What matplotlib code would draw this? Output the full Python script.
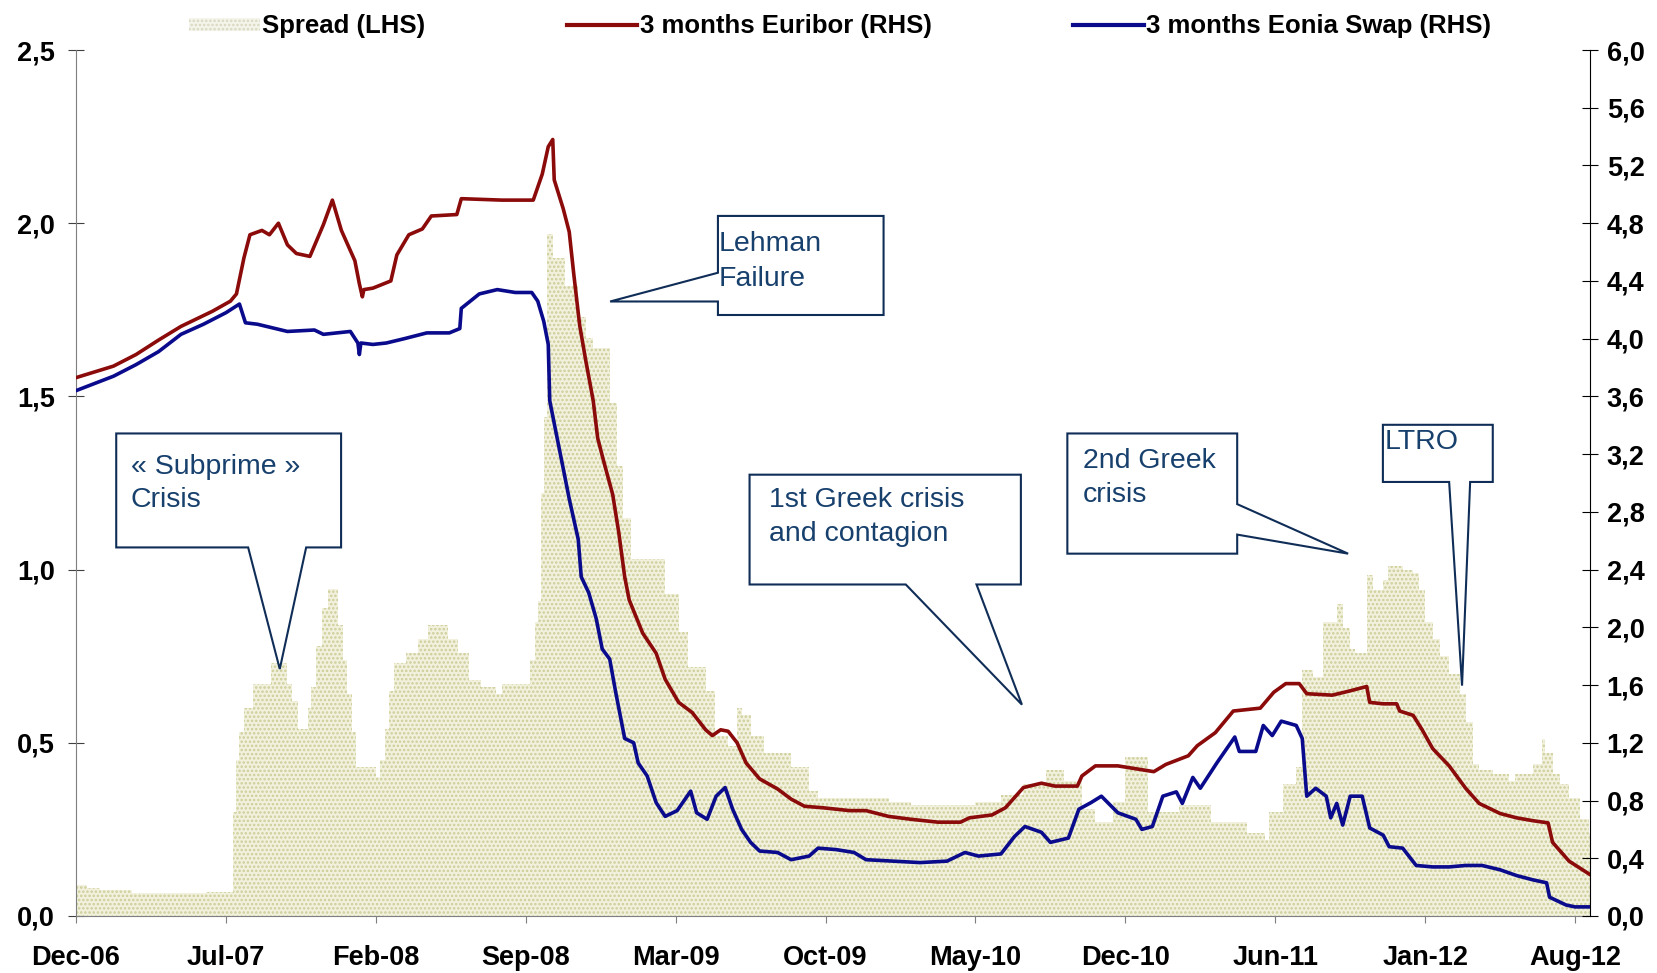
import matplotlib
matplotlib.use("Agg")
import matplotlib.pyplot as plt
from matplotlib.patches import Polygon, Patch
from matplotlib.lines import Line2D

plt.rcParams['font.family'] = ['Liberation Sans', 'DejaVu Sans']
plt.rcParams['hatch.linewidth'] = 1.2

# x positions are in "tick periods" (one label every ~146 business days)
tick_labels = ["Dec-06", "Jul-07", "Feb-08", "Sep-08", "Mar-09", "Oct-09",
               "May-10", "Dec-10", "Jun-11", "Jan-12", "Aug-12"]

# spread (LHS), step values starting at each position
spread_pos = [0.00, 0.07, 0.16, 0.37, 0.87, 1.05, 1.07, 1.09, 1.12, 1.18, 1.30, 1.41, 1.44, 1.48,
              1.55, 1.57, 1.60, 1.64, 1.68, 1.75, 1.78, 1.81, 1.84, 1.87, 2.00, 2.03, 2.06, 2.09,
              2.12, 2.20, 2.28, 2.35, 2.48, 2.55, 2.62, 2.70, 2.80, 2.84, 3.03, 3.06, 3.08, 3.10,
              3.12, 3.14, 3.18, 3.26, 3.35, 3.40, 3.45, 3.56, 3.61, 3.65, 3.70, 3.93, 4.02, 4.08,
              4.20, 4.26, 4.35, 4.41, 4.44, 4.50, 4.59, 4.77, 4.89, 4.95, 5.42, 5.57, 6.00, 6.17,
              6.32, 6.47, 6.59, 6.71, 6.80, 6.92, 7.00, 7.15, 7.36, 7.57, 7.81, 7.93, 7.96, 8.05,
              8.14, 8.18, 8.25, 8.32, 8.41, 8.45, 8.50, 8.53, 8.61, 8.65, 8.72, 8.75, 8.85, 8.92,
              8.96, 9.00, 9.05, 9.10, 9.16, 9.23, 9.27, 9.32, 9.36, 9.45, 9.56, 9.60, 9.72, 9.78,
              9.80, 9.85, 9.90, 9.96, 10.03, 10.09, 10.11]
spread_val = [0.09, 0.08, 0.075, 0.065, 0.07, 0.30, 0.45, 0.53, 0.60, 0.67, 0.73, 0.67, 0.62, 0.54,
              0.60, 0.66, 0.78, 0.89, 0.945, 0.84, 0.74, 0.64, 0.53, 0.43, 0.40, 0.45, 0.54, 0.65,
              0.73, 0.76, 0.80, 0.84, 0.80, 0.76, 0.68, 0.66, 0.64, 0.67, 0.74, 0.85, 0.91, 1.22,
              1.44, 1.97, 1.90, 1.82, 1.73, 1.67, 1.64, 1.48, 1.30, 1.15, 1.03, 0.93, 0.82, 0.72,
              0.65, 0.52, 0.49, 0.60, 0.58, 0.52, 0.47, 0.43, 0.36, 0.34, 0.33, 0.32, 0.33, 0.35,
              0.38, 0.42, 0.39, 0.31, 0.27, 0.33, 0.46, 0.30, 0.32, 0.27, 0.24, 0.22, 0.30, 0.38,
              0.43, 0.71, 0.69, 0.85, 0.90, 0.83, 0.77, 0.76, 0.985, 0.94, 0.97, 1.01, 1.00, 0.99,
              0.94, 0.85, 0.80, 0.75, 0.70, 0.64, 0.56, 0.44, 0.42, 0.41, 0.39, 0.41, 0.44, 0.51,
              0.47, 0.41, 0.38, 0.34, 0.28, 0.24, 0.24]

# 3 months Euribor (RHS)
euribor_pos = [0.00, 0.25, 0.40, 0.55, 0.70, 0.79, 0.91, 1.03, 1.07, 1.12, 1.16, 1.24, 1.29, 1.35,
               1.41, 1.47, 1.56, 1.65, 1.71, 1.77, 1.86, 1.89, 1.91, 1.92, 1.98, 2.10, 2.14, 2.22,
               2.31, 2.37, 2.54, 2.57, 2.84, 3.05, 3.11, 3.15, 3.18, 3.19, 3.25, 3.29, 3.32, 3.36,
               3.40, 3.45, 3.48, 3.52, 3.58, 3.62, 3.66, 3.69, 3.78, 3.87, 3.93, 4.02, 4.11, 4.20,
               4.245, 4.30, 4.35, 4.41, 4.47, 4.56, 4.68, 4.77, 4.86, 4.98, 5.16, 5.27, 5.42, 5.57,
               5.75, 5.90, 5.96, 6.11, 6.20, 6.32, 6.44, 6.53, 6.68, 6.71, 6.80, 6.95, 7.07, 7.19,
               7.27, 7.42, 7.48, 7.60, 7.72, 7.90, 7.99, 8.07, 8.16, 8.21, 8.38, 8.50, 8.61, 8.63,
               8.72, 8.81, 8.83, 8.92, 8.98, 9.05, 9.16, 9.27, 9.36, 9.50, 9.61, 9.72, 9.82, 9.85,
               9.96, 10.05, 10.11]
euribor_val = [3.73, 3.81, 3.89, 3.99, 4.085, 4.13, 4.19, 4.26, 4.31, 4.56, 4.72, 4.75, 4.72, 4.80,
               4.65, 4.59, 4.57, 4.79, 4.96, 4.75, 4.54, 4.38, 4.29, 4.34, 4.35, 4.40, 4.58, 4.72,
               4.76, 4.85, 4.86, 4.97, 4.96, 4.96, 5.14, 5.33, 5.38, 5.10, 4.90, 4.74, 4.45, 4.09,
               3.85, 3.57, 3.31, 3.15, 2.92, 2.66, 2.35, 2.19, 1.96, 1.82, 1.64, 1.48, 1.41, 1.29,
               1.25, 1.29, 1.28, 1.20, 1.06, 0.95, 0.88, 0.81, 0.76, 0.75, 0.73, 0.73, 0.69, 0.67,
               0.65, 0.65, 0.68, 0.70, 0.75, 0.89, 0.92, 0.90, 0.90, 0.97, 1.04, 1.04, 1.02, 1.00,
               1.05, 1.11, 1.18, 1.27, 1.42, 1.44, 1.55, 1.61, 1.61, 1.54, 1.53, 1.56, 1.59, 1.48,
               1.47, 1.47, 1.42, 1.39, 1.29, 1.16, 1.04, 0.885, 0.78, 0.71, 0.68, 0.66, 0.645, 0.51,
               0.38, 0.32, 0.28]

# 3 months Eonia swap (RHS)
eonia_pos = [0.00, 0.25, 0.40, 0.55, 0.70, 0.85, 1.00, 1.09, 1.13, 1.21, 1.29, 1.41, 1.59, 1.65,
             1.83, 1.88, 1.89, 1.90, 1.98, 2.07, 2.19, 2.34, 2.49, 2.56, 2.57, 2.63, 2.69, 2.81,
             2.93, 3.04, 3.08, 3.12, 3.15, 3.16, 3.20, 3.25, 3.29, 3.35, 3.37, 3.42, 3.47, 3.51,
             3.56, 3.60, 3.66, 3.72, 3.75, 3.81, 3.87, 3.93, 4.01, 4.10, 4.14, 4.21, 4.27, 4.33,
             4.38, 4.44, 4.50, 4.56, 4.68, 4.77, 4.89, 4.95, 5.07, 5.19, 5.27, 5.45, 5.63, 5.81,
             5.93, 6.02, 6.17, 6.26, 6.33, 6.44, 6.50, 6.62, 6.69, 6.77, 6.84, 6.95, 7.07, 7.11,
             7.18, 7.25, 7.34, 7.38, 7.45, 7.50, 7.61, 7.73, 7.76, 7.87, 7.92, 7.98, 8.04, 8.14,
             8.18, 8.21, 8.27, 8.34, 8.37, 8.41, 8.45, 8.50, 8.58, 8.63, 8.72, 8.76, 8.85, 8.94,
             9.05, 9.16, 9.27, 9.38, 9.50, 9.61, 9.72, 9.81, 9.83, 9.94, 10.00, 10.11]
eonia_val = [3.64, 3.74, 3.82, 3.91, 4.03, 4.10, 4.18, 4.24, 4.11, 4.10, 4.08, 4.05, 4.06, 4.03,
             4.05, 3.97, 3.89, 3.97, 3.96, 3.97, 4.00, 4.04, 4.04, 4.07, 4.21, 4.26, 4.31, 4.34,
             4.32, 4.32, 4.26, 4.12, 3.96, 3.57, 3.36, 3.10, 2.89, 2.61, 2.35, 2.24, 2.06, 1.85,
             1.78, 1.55, 1.23, 1.20, 1.06, 0.97, 0.785, 0.69, 0.73, 0.865, 0.715, 0.67, 0.83, 0.89,
             0.74, 0.60, 0.51, 0.45, 0.44, 0.39, 0.415, 0.47, 0.46, 0.44, 0.39, 0.38, 0.37, 0.38,
             0.44, 0.415, 0.43, 0.55, 0.62, 0.58, 0.51, 0.54, 0.74, 0.785, 0.83, 0.715, 0.67, 0.60,
             0.62, 0.83, 0.86, 0.78, 0.96, 0.885, 1.06, 1.24, 1.14, 1.14, 1.32, 1.25, 1.35, 1.32,
             1.23, 0.83, 0.885, 0.83, 0.68, 0.78, 0.63, 0.83, 0.83, 0.61, 0.56, 0.48, 0.47, 0.35,
             0.34, 0.34, 0.35, 0.35, 0.32, 0.28, 0.25, 0.23, 0.13, 0.076, 0.063, 0.063]

navy = '#0f2d57'
txt_col = '#17406d'

fig = plt.figure(figsize=(16.57, 9.73), dpi=100)
ax = fig.add_axes([0.0459, 0.0586, 0.9137, 0.89])
ax2 = ax.twinx()

ax.fill_between(spread_pos, spread_val, 0, step='post', facecolor='#f1f1de',
                edgecolor='#cdcd98', hatch='....', linewidth=0, zorder=1)
ax2.plot(euribor_pos, euribor_val, color='#8b0a0a', lw=2.6, zorder=3)
ax2.plot(eonia_pos, eonia_val, color='#0a0a8c', lw=2.6, zorder=3)

ax.set_xlim(0, 10.1)
ax.set_ylim(0, 2.5)
ax2.set_ylim(0, 6.0)
ax.set_xticks(range(len(tick_labels)))
ax.set_xticklabels(tick_labels)

lticks = [0, 0.5, 1.0, 1.5, 2.0, 2.5]
rticks = [i * 0.4 for i in range(16)]
ax.set_yticks(lticks)
ax.set_yticklabels([f"{v:.1f}".replace('.', ',') for v in lticks])
ax2.set_yticks(rticks)
ax2.set_yticklabels([f"{v:.1f}".replace('.', ',') for v in rticks])

for a in (ax, ax2):
    a.spines['top'].set_visible(False)
ax.spines['right'].set_visible(False)
ax2.spines['left'].set_visible(False)
ax2.spines['bottom'].set_visible(False)
ax.spines['left'].set_color('#7f7f7f')
ax.spines['bottom'].set_color('#7f7f7f')
ax2.spines['right'].set_color('black')

ax.tick_params(axis='x', direction='out', length=5, color='#7f7f7f', pad=16,
               labelsize=19.5)
ax.tick_params(axis='y', direction='inout', length=12, color='#404040', pad=9,
               labelsize=19.5)
ax2.tick_params(axis='y', direction='inout', length=12, color='black', pad=6,
                labelsize=19.5)
for lab in ax.get_xticklabels() + ax.get_yticklabels() + ax2.get_yticklabels():
    lab.set_fontweight('bold')

# callouts: box polygon (data coords of left axis) and text lines
callouts = [
    ([(0.268, 1.393), (1.768, 1.393), (1.768, 1.064), (1.535, 1.064), (1.359, 0.713),
      (1.148, 1.064), (0.268, 1.064)],
     0.366, [1.296, 1.201], ["« Subprime »", "Crisis"]),
    ([(4.282, 2.021), (5.387, 2.021), (5.387, 1.735), (4.282, 1.735), (4.282, 1.774),
      (3.563, 1.774), (4.282, 1.857)],
     4.289, [1.939, 1.838], ["Lehman", "Failure"]),
    ([(4.493, 1.274), (6.303, 1.274), (6.303, 0.957), (6.007, 0.957), (6.310, 0.610),
      (5.535, 0.957), (4.493, 0.957)],
     4.62, [1.201, 1.104], ["1st Greek crisis", "and contagion"]),
    ([(6.613, 1.393), (7.746, 1.393), (7.746, 1.189), (8.486, 1.046), (7.746, 1.101),
      (7.746, 1.046), (6.613, 1.046)],
     6.718, [1.314, 1.216], ["2nd Greek", "crisis"]),
    ([(8.718, 1.418), (9.451, 1.418), (9.451, 1.253), (9.30, 1.253), (9.246, 0.665),
      (9.16, 1.253), (8.718, 1.253)],
     8.73, [1.369], ["LTRO"]),
]
for verts, tx, tys, lines in callouts:
    ax2.add_patch(Polygon(verts, closed=True, facecolor='white', edgecolor=navy,
                          lw=1.5, transform=ax.transData, zorder=5))
    for ty, s in zip(tys, lines):
        ax2.text(tx, ty, s, transform=ax.transData, ha='left', va='center',
                 fontsize=20.5, color=txt_col, zorder=6)

handles = [Patch(facecolor='#f4f4ea', edgecolor='#d8d8c0', hatch='....', linewidth=0),
           Line2D([], [], color='#8b0a0a', lw=3),
           Line2D([], [], color='#0a0a8c', lw=3)]
labels = ["Spread (LHS)", "3 months Euribor (RHS)", "3 months Eonia Swap (RHS)"]
fig.legend(handles, labels, loc='center', bbox_to_anchor=(0.507, 0.973), ncol=3,
           frameon=False, handlelength=2.75, handleheight=0.4, handletextpad=0.1,
           columnspacing=5.5, prop={'weight': 'bold', 'size': 18.5})

fig.savefig("out.png", dpi=100)
